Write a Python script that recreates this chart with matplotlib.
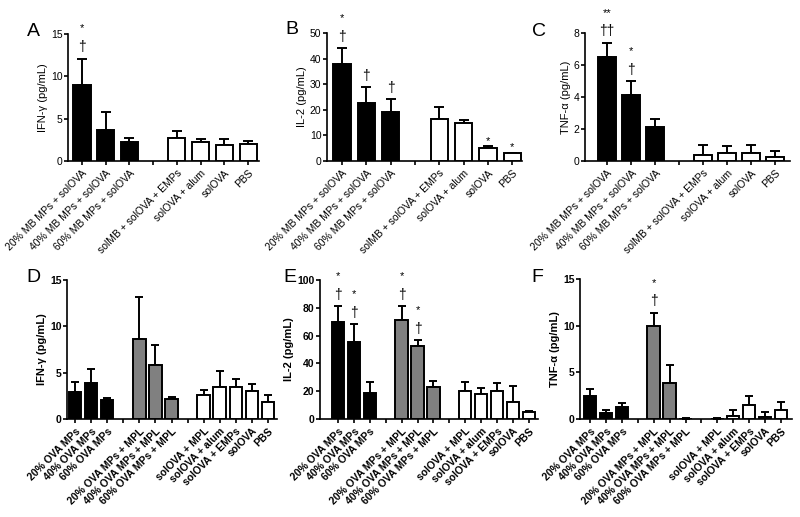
import matplotlib
matplotlib.use('Agg')
from matplotlib import pyplot as plt

plt.rcParams['font.family'] = ['Liberation Sans', 'DejaVu Sans']

# top row groups (A, B, C)
top_labels = ['20% MB MPs + solOVA', '40% MB MPs + solOVA', '60% MB MPs + solOVA', '',
              'solMB + solOVA + EMPs', 'solOVA + alum', 'solOVA', 'PBS']
top_colors = ['black', 'black', 'black', None, 'white', 'white', 'white', 'white']

# bottom row groups (D, E, F)
bot_labels = ['20% OVA MPs', '40% OVA MPs', '60% OVA MPs', '',
              '20% OVA MPs + MPL', '40% OVA MPs + MPL', '60% OVA MPs + MPL', '',
              'solOVA + MPL', 'solOVA + alum', 'solOVA + EMPs', 'solOVA', 'PBS']
bot_colors = ['black'] * 3 + [None] + ['#808080'] * 3 + [None] + ['white'] * 5

# A: IFN-gamma
a_mean = [9.0, 3.7, 2.3, None, 2.7, 2.2, 1.9, 2.0]
a_err = [3.1, 2.1, 0.4, None, 0.8, 0.4, 0.7, 0.4]
a_marks = [('*', '†'), None, None, None, None, None, None, None]
# B: IL-2
b_mean = [37.9, 22.8, 19.0, None, 16.4, 14.8, 4.9, 3.0]
b_err = [6.2, 6.0, 5.1, None, 4.5, 1.4, 0.8, 0.3]
b_marks = [('*', '†'), ('', '†'), ('', '†'), None, None, None, ('*', ''), ('*', '')]
# C: TNF-alpha
c_mean = [6.5, 4.1, 2.1, None, 0.37, 0.5, 0.5, 0.25]
c_err = [0.9, 0.9, 0.55, None, 0.63, 0.45, 0.52, 0.35]
c_marks = [('**', '††'), ('*', '†'), None, None, None, None, None, None]
# D: IFN-gamma
d_mean = [2.9, 3.9, 2.0, None, 8.6, 5.8, 2.2, None, 2.6, 3.4, 3.5, 3.0, 1.8]
d_err = [1.1, 1.5, 0.25, None, 4.6, 2.2, 0.2, None, 0.5, 1.8, 0.8, 0.8, 0.8]
d_marks = [None] * 13
# E: IL-2
e_mean = [70, 55.5, 19.0, None, 71, 52.5, 22.7, None, 20.2, 17.9, 19.9, 12.0, 4.8]
e_err = [11.5, 12.5, 7.5, None, 10.3, 4.0, 4.5, None, 6.7, 4.2, 5.8, 11.4, 1.2]
e_marks = [('*', '†'), ('*', '†'), None, None, ('*', '†'), ('*', '†'),
           None, None, None, None, None, None, None]
# F: TNF-alpha
f_mean = [2.45, 0.6, 1.3, None, 10.0, 3.9, 0.05, None, 0.05, 0.3, 1.55, 0.2, 0.95]
f_err = [0.8, 0.4, 0.45, None, 1.4, 1.9, 0.05, None, 0.05, 0.65, 0.9, 0.55, 0.85]
f_marks = [None, None, None, None, ('*', '†'), None, None, None,
           None, None, None, None, None]

W, H = 800, 517
fig = plt.figure(figsize=(W / 100, H / 100), dpi=100)


def make_axes(left, right, top, bottom):
    return fig.add_axes([left / W, 1 - bottom / H, (right - left) / W, (bottom - top) / H])


def panel(ax, means, errs, colors, labels, marks, ymax, yticks, ylabel, xlim,
          width, bold, cap):
    weight = 'bold' if bold else 'normal'
    for i, (m, e, c) in enumerate(zip(means, errs, colors)):
        if m is None:
            continue
        ax.bar(i, m, width=width, color=c, edgecolor='black', linewidth=1.4, zorder=3)
        ax.errorbar(i, m, yerr=[[0], [e]], fmt='none', ecolor='black',
                    elinewidth=1.4, capsize=cap, capthick=1.4, zorder=2)
        if marks[i]:
            star, dag = marks[i]
            top = m + e
            if dag:
                ax.annotate(dag, (i, top), xytext=(0, 3), textcoords='offset points',
                            ha='center', va='bottom', fontsize=10, annotation_clip=False)
                ax.annotate(star, (i, top), xytext=(0, 18), textcoords='offset points',
                            ha='center', va='bottom', fontsize=8, annotation_clip=False)
            else:
                ax.annotate(star, (i, top), xytext=(0, 0.5), textcoords='offset points',
                            ha='center', va='bottom', fontsize=8, annotation_clip=False)
    ax.set_xlim(*xlim)
    ax.set_ylim(0, ymax)
    ax.set_yticks(yticks)
    ax.set_xticks(range(len(labels)))
    ax.set_xticklabels(labels, rotation=45, ha='right', rotation_mode='anchor',
                       fontsize=7.5, fontweight=weight)
    for t in ax.get_yticklabels():
        t.set_fontweight(weight)
    ax.tick_params(axis='y', labelsize=7.5, length=3, width=1.2, pad=1)
    ax.tick_params(axis='x', length=3, width=1.2, pad=2)
    ax.set_ylabel(ylabel, fontsize=8, fontweight=weight, labelpad=2)
    for s in ['top', 'right']:
        ax.spines[s].set_visible(False)
    for s in ['left', 'bottom']:
        ax.spines[s].set_linewidth(1.2)


axA = make_axes(68, 259, 34, 161)
panel(axA, a_mean, a_err, top_colors, top_labels, a_marks, 15, [0, 5, 10, 15],
      'IFN-γ (pg/mL)', (-0.59, 7.46), 0.72, False, 3.5)
axB = make_axes(327, 522, 33, 161)
panel(axB, b_mean, b_err, top_colors, top_labels, b_marks, 50, [0, 10, 20, 30, 40, 50],
      'IL-2 (pg/mL)', (-0.62, 7.4), 0.72, False, 3.5)
axC = make_axes(585, 790, 33, 161)
panel(axC, c_mean, c_err, top_colors, top_labels, c_marks, 8, [0, 2, 4, 6, 8],
      'TNF-α (pg/mL)', (-0.92, 7.62), 0.72, False, 3.5)
axD = make_axes(67, 277, 280, 419)
panel(axD, d_mean, d_err, bot_colors, bot_labels, d_marks, 15, [0, 5, 10, 15],
      'IFN-γ (pg/mL)', (-0.5, 12.56), 0.78, True, 3)
axE = make_axes(320, 538, 280, 419)
panel(axE, e_mean, e_err, bot_colors, bot_labels, e_marks, 100, [0, 20, 40, 60, 80, 100],
      'IL-2 (pg/mL)', (-1.13, 12.57), 0.78, True, 3)
axF = make_axes(580, 792, 279, 419)
panel(axF, f_mean, f_err, bot_colors, bot_labels, f_marks, 15, [0, 5, 10, 15],
      'TNF-α (pg/mL)', (-0.63, 12.69), 0.78, True, 3)

for letter, x, y in [('A', 33, 31), ('B', 292, 29), ('C', 539, 31),
                     ('D', 33, 278), ('E', 290, 278), ('F', 537, 278)]:
    fig.text(x / W, 1 - y / H, letter, fontsize=14, ha='center', va='center')

fig.savefig('out.png', dpi=100)
